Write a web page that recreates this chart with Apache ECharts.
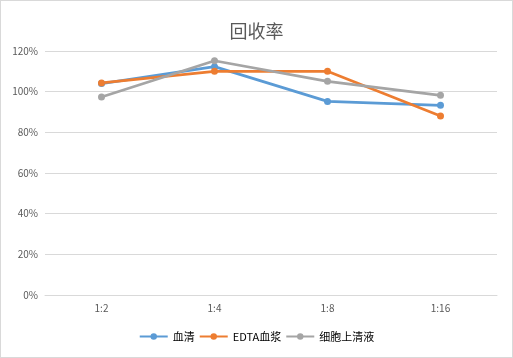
<!DOCTYPE html>
<html><head><meta charset="utf-8">
<script src="https://cdn.jsdelivr.net/npm/echarts@6/dist/echarts.min.js"></script>
<style>html,body{margin:0;padding:0;background:#fff}#c{width:511px;height:356px;border:1px solid #d9d9d9}</style>
</head><body><div id="c"></div>
<script>
var categories = ['1:2', '1:4', '1:8', '1:16'];
var serum = [104, 112.3, 95.2, 93.3];
var edtaPlasma = [104.3, 110, 110, 88];
var cellSupernatant = [97.4, 115.2, 105.1, 98.2];
var seriesNames = ['血清', 'EDTA血浆', '细胞上清液'];
var colors = ['#5B9BD5', '#ED7D31', '#A5A5A5'];
var values = [serum, edtaPlasma, cellSupernatant];

var chart = echarts.init(document.getElementById('c'));
var font = '"Noto Sans CJK SC", "Noto Sans", sans-serif';
chart.setOption({
  animation: false,
  title: {text: '回收率', left: 'center', top: 16,
    textStyle: {fontSize: 18, fontWeight: 'normal', color: '#595959', fontFamily: font}},
  grid: {left: 44, right: 15, top: 50, bottom: 62},
  legend: {bottom: 10, left: 'center', itemWidth: 28, itemHeight: 8, itemGap: 4,
    textStyle: {fontSize: 11, color: '#000', fontFamily: font},
    data: seriesNames},
  xAxis: {type: 'category', data: categories, boundaryGap: true,
    axisLine: {lineStyle: {color: '#d9d9d9'}}, axisTick: {show: false},
    axisLabel: {color: '#595959', fontSize: 10, margin: 8, fontFamily: font}},
  yAxis: {type: 'value', min: 0, max: 120, interval: 20,
    axisLabel: {formatter: '{value}%', color: '#595959', fontSize: 10, margin: 7, fontFamily: font},
    splitLine: {lineStyle: {color: '#d9d9d9'}}, axisLine: {show: false}, axisTick: {show: false}},
  series: seriesNames.map(function(n, i){
    return {name: n, type: 'line', data: values[i], symbol: 'circle', symbolSize: 7,
      itemStyle: {color: colors[i]}, lineStyle: {width: 2.75, color: colors[i]}};
  })
});
</script></body></html>
